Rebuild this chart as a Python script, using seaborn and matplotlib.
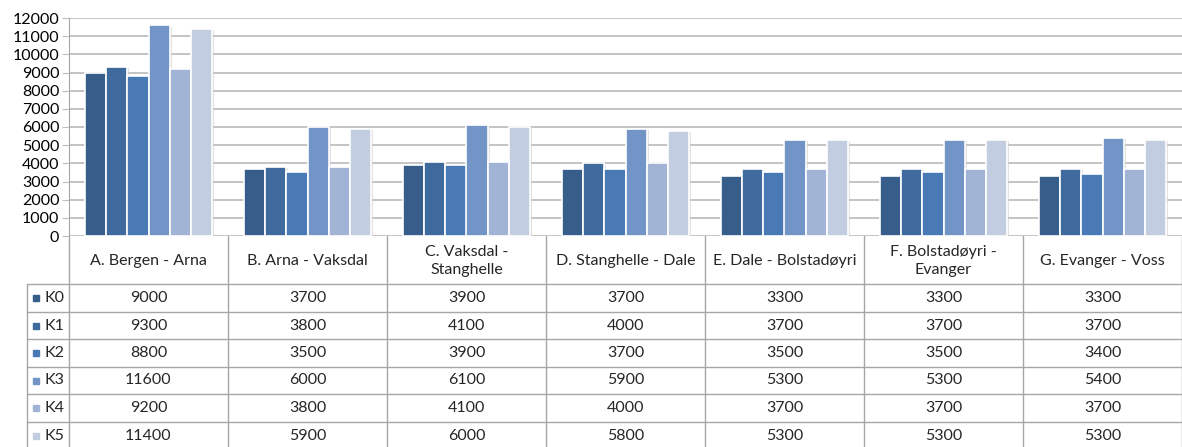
# Bar chart with data table below (Excel style), redrawn with seaborn.

import numpy as np
import pandas as pd
import seaborn as sns
import matplotlib.pyplot as plt
import matplotlib.patheffects as pe

# Data.
sections = ["A. Bergen - Arna", "B. Arna - Vaksdal", "C. Vaksdal -\nStanghelle",
            "D. Stanghelle - Dale", "E. Dale - Bolstadøyri", "F. Bolstadøyri -\nEvanger",
            "G. Evanger - Voss"]
series = ["K0", "K1", "K2", "K3", "K4", "K5"]
k0 = [9000, 3700, 3900, 3700, 3300, 3300, 3300]
k1 = [9300, 3800, 4100, 4000, 3700, 3700, 3700]
k2 = [8800, 3500, 3900, 3700, 3500, 3500, 3400]
k3 = [11600, 6000, 6100, 5900, 5300, 5300, 5400]
k4 = [9200, 3800, 4100, 4000, 3700, 3700, 3700]
k5 = [11400, 5900, 6000, 5800, 5300, 5300, 5300]
values = [k0, k1, k2, k3, k4, k5]

colors = ["#375d8a", "#3f6a9e", "#4a7ab5", "#7294c6", "#a2b4d6", "#c2cde2"]
grid_col = "#bfbfbf"
line_col = "#a6a6a6"

rows = []
for name, vals in zip(series, values):
    for sec, v in zip(sections, vals):
        rows.append({"Section": sec, "Series": name, "Value": v})
df = pd.DataFrame(rows)

sns.set_style("white")
plt.rcParams["font.family"] = ["Lato", "DejaVu Sans"]

W, H = 1182, 447
fig = plt.figure(figsize=(W / 100, H / 100), dpi=100)

# Main bar axes (pixel layout from the reference).
left, right, top, bottom = 69, 1182, 18, 236
ax = fig.add_axes([left / W, 1 - bottom / H, (right - left) / W, (bottom - top) / H])
sns.barplot(data=df, x="Section", y="Value", hue="Series", palette=colors,
            saturation=1, width=0.8, edgecolor="white", linewidth=1.2,
            legend=False, ax=ax)
for p in ax.patches:
    p.set_path_effects([pe.SimplePatchShadow(offset=(1.5, -1), shadow_rgbFace="#d0d0d0", alpha=0.6),
                        pe.Normal()])

ax.set_xlim(-0.5, 6.5)
ax.set_ylim(0, 12000)
ax.set_yticks(np.arange(0, 12001, 1000))
ax.yaxis.grid(True, color=grid_col, linewidth=1.3)
ax.set_axisbelow(True)
ax.set_xlabel("")
ax.set_ylabel("")
ax.set_xticks([])
for s in ["top", "right", "bottom"]:
    ax.spines[s].set_visible(False)
ax.spines["left"].set_color(line_col)
ax.tick_params(axis="y", left=True, length=5, color=grid_col, labelsize=11.5,
               labelcolor="black", pad=2)

# Data table axes below, y in pixel rows.
tx = fig.add_axes([left / W, 0, (right - left) / W, (H - bottom) / H], sharex=ax)
tx.set_ylim(H, bottom)
tx.axis("off")
leg_left = -0.5 - (left - 27) / 159.0
row_lines = [284, 312, 339, 367, 394, 422, 449]
kw = dict(color=line_col, linewidth=1.0, clip_on=False)

for i in range(len(sections) + 1):
    tx.plot([i - 0.5, i - 0.5], [bottom, H], **kw)
tx.plot([leg_left, leg_left], [row_lines[0], H], **kw)
for y in row_lines:
    tx.plot([leg_left, 6.6], [y, y], **kw)

for i, sec in enumerate(sections):
    tx.text(i, (bottom + row_lines[0]) / 2 + 1, sec, ha="center", va="center",
            fontsize=11.5, linespacing=1.35)

for r, (name, vals) in enumerate(zip(series, values)):
    yc = (row_lines[r] + row_lines[r + 1]) / 2
    tx.plot([leg_left + 0.058], [yc], marker="s", markersize=5, color=colors[r],
            linestyle="none", clip_on=False)
    tx.text(leg_left + 0.108, yc, name, ha="left", va="center", fontsize=11.5)
    for i, v in enumerate(vals):
        tx.text(i, yc, str(v), ha="center", va="center", fontsize=11.5)

plt.savefig("out.png", dpi=100)
